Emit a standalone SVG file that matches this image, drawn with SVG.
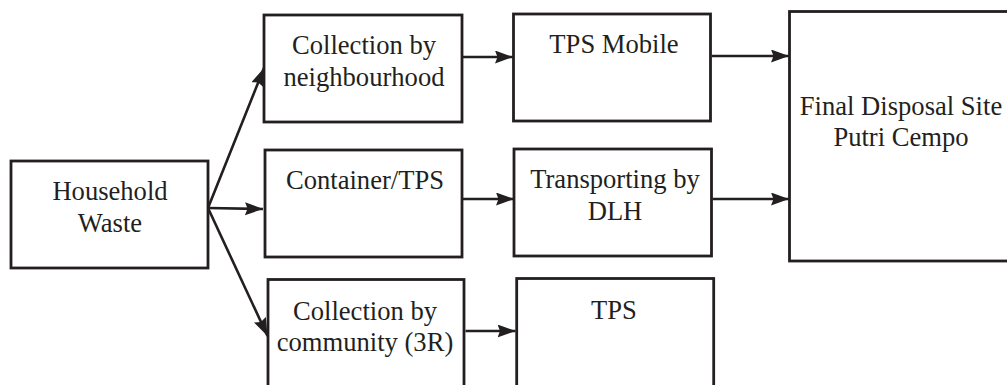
<svg xmlns="http://www.w3.org/2000/svg" width="1007" height="385" viewBox="0 0 1007 385">
<style>
  .box { fill: #ffffff; stroke: #231f20; stroke-width: 2.8; }
  .lbl { font-family: "Liberation Serif", "Times New Roman", serif; font-size: 26.6px; fill: #231f20; text-anchor: middle; }
  .conn { stroke: #231f20; stroke-width: 2.6; fill: none; marker-end: url(#arrow); }
</style>
<defs>
  <marker id="arrow" markerUnits="userSpaceOnUse" markerWidth="20" markerHeight="14" refX="18" refY="6.5" orient="auto">
    <path d="M0,0 L18,6.5 L0,13 L2.5,6.5 z" fill="#231f20"/>
  </marker>
</defs>
<rect width="1007" height="385" fill="#ffffff"/>

<g id="household">
  <rect class="box" x="11" y="161" width="197" height="107"/>
  <text class="lbl" x="110" y="200">Household</text>
  <text class="lbl" x="110" y="232">Waste</text>
</g>

<g id="neighbourhood">
  <rect class="box" x="264" y="15" width="198" height="107"/>
  <text class="lbl" x="364" y="54">Collection by</text>
  <text class="lbl" x="364" y="86">neighbourhood</text>
</g>

<g id="container">
  <rect class="box" x="265" y="150" width="197" height="107"/>
  <text class="lbl" x="365" y="188.5">Container/TPS</text>
</g>

<g id="community">
  <rect class="box" x="268" y="279.5" width="196" height="125"/>
  <text class="lbl" x="365" y="319.5">Collection by</text>
  <text class="lbl" x="365" y="351">community (3R)</text>
</g>

<g id="tps-mobile">
  <rect class="box" x="513.5" y="14" width="197" height="107"/>
  <text class="lbl" x="614" y="53">TPS Mobile</text>
</g>

<g id="transporting">
  <rect class="box" x="514" y="149" width="197.5" height="107"/>
  <text class="lbl" x="615" y="188">Transporting by</text>
  <text class="lbl" x="615" y="220">DLH</text>
</g>

<g id="tps">
  <rect class="box" x="516.7" y="278.5" width="197" height="125"/>
  <text class="lbl" x="614" y="319">TPS</text>
</g>

<g id="final-disposal">
  <rect class="box" x="789.5" y="11.5" width="235" height="249.5"/>
  <text class="lbl" x="901" y="115">Final Disposal Site</text>
  <text class="lbl" x="901" y="146">Putri Cempo</text>
</g>

<g id="connectors">
  <line class="conn" x1="208" y1="208" x2="264" y2="68"/>
  <line class="conn" x1="208" y1="208" x2="263" y2="209"/>
  <line class="conn" x1="208" y1="208" x2="267.5" y2="336"/>
  <line class="conn" x1="463" y1="57" x2="513" y2="57"/>
  <line class="conn" x1="712" y1="56" x2="789" y2="56"/>
  <line class="conn" x1="463" y1="199" x2="514" y2="199"/>
  <line class="conn" x1="712.5" y1="199" x2="789" y2="199"/>
  <line class="conn" x1="465.5" y1="331" x2="515.5" y2="331"/>
</g>
</svg>
